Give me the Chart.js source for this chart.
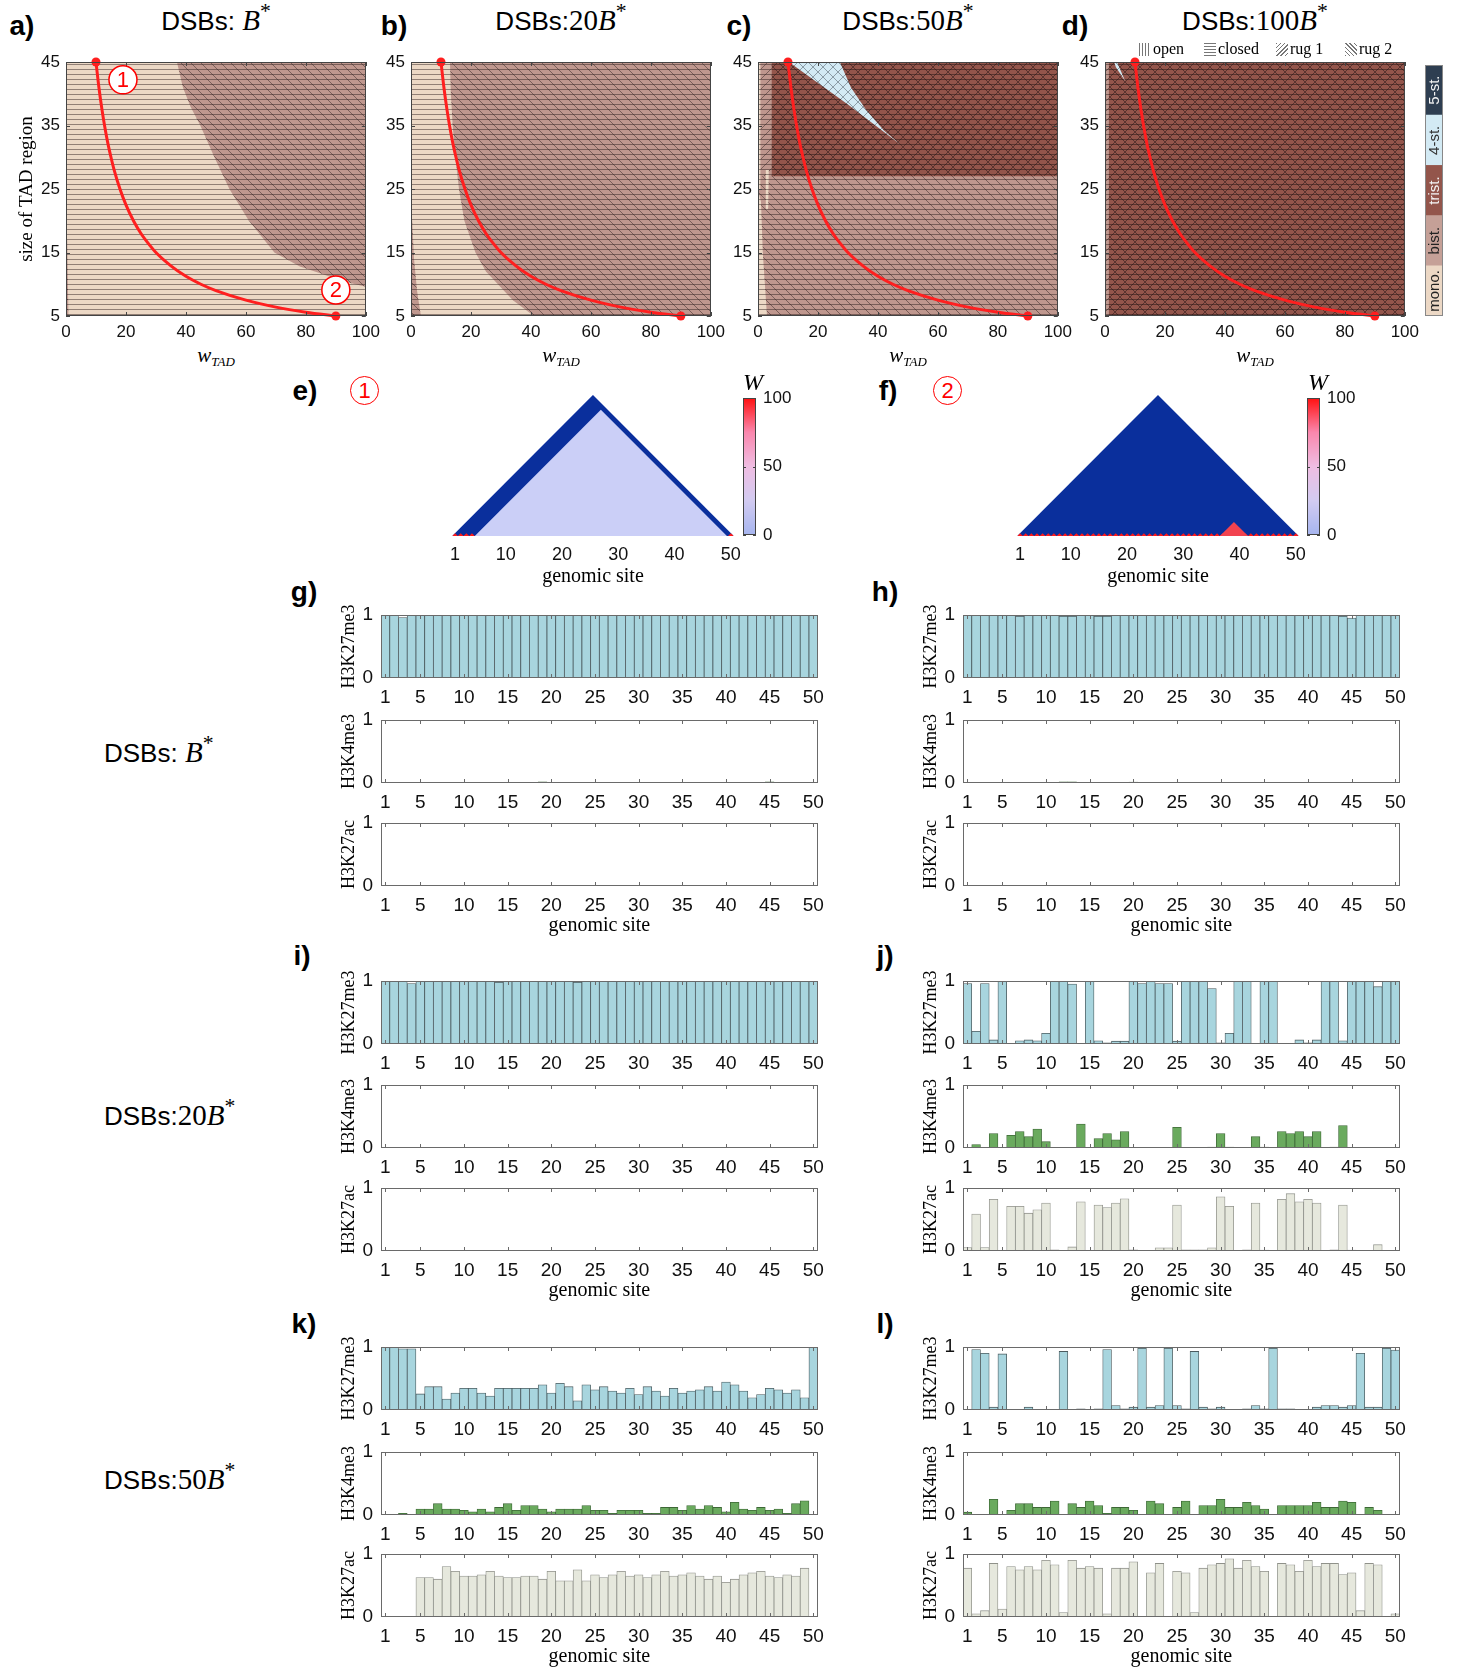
<!DOCTYPE html>
<html>
<head>
<meta charset="utf-8">
<title>TAD phase diagrams and histone marks</title>
<script src="https://cdn.jsdelivr.net/npm/chart.js@4.4.1/dist/chart.umd.min.js"></script>
<style>
  body { margin: 0; width: 1469px; height: 1671px; position: relative; background: #fff; overflow: hidden;
         font-family: "Liberation Sans", Arial, sans-serif; color: #000; }
  canvas { position: absolute; }
  .t { position: absolute; transform: translate(-50%, -50%); white-space: nowrap; line-height: 1; z-index: 2; }
  .lab { font-weight: bold; font-size: 28px; }
  .ttl { font-size: 26px; }
  .row { transform: translate(0, -50%); }
  .m { font-family: "Liberation Serif", serif; }
  .mt { font-size: 29px; }
  .m sup { font-size: 75%; vertical-align: 0.55em; line-height: 0; }
  .wt { font-size: 21px; }
  .wt sub { font-size: 13px; vertical-align: -0.35em; line-height: 0; }
  .circ { position: absolute; width: 27px; height: 27px; margin: -15px 0 0 -15px; border: 1.5px solid #f00; border-radius: 50%;
          color: #f00; font-size: 22px; text-align: center; line-height: 28px; z-index: 2; }
  .lg { position: absolute; top: 40px; font-family: "Liberation Serif", serif; font-size: 16px; display: flex; align-items: center; gap: 2px; z-index: 2; }
  .sw { display: inline-block; width: 12px; height: 13px; }
  .sw.open { background: repeating-linear-gradient(90deg, #777 0 1px, #fff 1px 3px); }
  .sw.closed { background: repeating-linear-gradient(0deg, #777 0 1px, #fff 1px 3px); }
  .sw.rug1 { background: repeating-linear-gradient(135deg, #777 0 1px, #fff 1px 3px); }
  .sw.rug2 { background: repeating-linear-gradient(45deg, #777 0 1px, #fff 1px 3px); }
</style>
</head>
<body>

<div class="t lab" style="left:22px;top:26px">a)</div>
<div class="t lab" style="left:394px;top:26px">b)</div>
<div class="t lab" style="left:739px;top:26px">c)</div>
<div class="t lab" style="left:1075px;top:26px">d)</div>
<div class="t ttl" style="left:216px;top:20px">DSBs: <span class="m mt"><i>B</i><sup>*</sup></span></div>
<div class="t ttl" style="left:561px;top:20px">DSBs:<span class="m mt">20<i>B</i><sup>*</sup></span></div>
<div class="t ttl" style="left:908px;top:20px">DSBs:<span class="m mt">50<i>B</i><sup>*</sup></span></div>
<div class="t ttl" style="left:1255px;top:20px">DSBs:<span class="m mt">100<i>B</i><sup>*</sup></span></div>

<div class="lg" style="left:1139px"><span class="sw open"></span>open</div>
<div class="lg" style="left:1204px"><span class="sw closed"></span>closed</div>
<div class="lg" style="left:1276px"><span class="sw rug1"></span>rug 1</div>
<div class="lg" style="left:1345px"><span class="sw rug2"></span>rug 2</div>

<div class="t m wt" style="left:216px;top:355px"><i>w</i><sub><i>TAD</i></sub></div>
<div class="t m wt" style="left:561px;top:355px"><i>w</i><sub><i>TAD</i></sub></div>
<div class="t m wt" style="left:908px;top:355px"><i>w</i><sub><i>TAD</i></sub></div>
<div class="t m wt" style="left:1255px;top:355px"><i>w</i><sub><i>TAD</i></sub></div>

<div class="t lab" style="left:305px;top:391px">e)</div>
<div class="circ" style="left:365px;top:391px">1</div>
<div class="t lab" style="left:888px;top:391px">f)</div>
<div class="circ" style="left:948px;top:391px">2</div>
<div class="t m" style="left:753px;top:382px;font-size:24px"><i>W</i></div>
<div class="t m" style="left:1318px;top:382px;font-size:24px"><i>W</i></div>

<div class="t lab" style="left:304px;top:592px">g)</div>
<div class="t lab" style="left:885px;top:592px">h)</div>
<div class="t lab" style="left:302px;top:956px">i)</div>
<div class="t lab" style="left:885px;top:956px">j)</div>
<div class="t lab" style="left:304px;top:1324px">k)</div>
<div class="t lab" style="left:885px;top:1324px">l)</div>

<div class="t ttl row" style="left:104px;top:752px">DSBs: <span class="m mt"><i>B</i><sup>*</sup></span></div>
<div class="t ttl row" style="left:104px;top:1115px">DSBs:<span class="m mt">20<i>B</i><sup>*</sup></span></div>
<div class="t ttl row" style="left:104px;top:1479px">DSBs:<span class="m mt">50<i>B</i><sup>*</sup></span></div>

<script>
// ---- axes / categories ----
const SITES = [1,2,3,4,5,6,7,8,9,10,11,12,13,14,15,16,17,18,19,20,21,22,23,24,25,
               26,27,28,29,30,31,32,33,34,35,36,37,38,39,40,41,42,43,44,45,46,47,48,49,50];
const BAR_TICKS = [1,5,10,15,20,25,30,35,40,45,50];
const TRI_TICKS = [1,10,20,30,40,50];
const W_TICKS = [0,50,100];
const WTAD_TICKS = [0,20,40,60,80,100];
const SIZE_TICKS = [5,15,25,35,45];
const MARKS = ['H3K27me3','H3K4me3','H3K27ac'];
const STATES = ['mono.','bist.','trist.','4-st.','5-st.'];

// ---- phase diagrams (w_TAD, size of TAD region) ----
const CURVE_W    = [10, 11, 12, 13, 14, 15, 16, 18, 20, 22.5, 25, 27.5, 30, 35, 40, 45, 50, 60, 70, 80, 90];
const CURVE_SIZE = [45, 40.9, 37.5, 34.6, 32.1, 30, 28.1, 25, 22.5, 20, 18, 16.4, 15, 12.9, 11.25, 10, 9, 7.5, 6.4, 5.6, 5];
const FULL = [[0,5],[100,5],[100,45],[0,45]];
const A_BIST = [[37,45],[39,41],[41.5,38],[44.8,35],[49.5,30],[54.5,25],[61,20],[69.5,15],[78,12.8],[85,11.7],[92,10.5],[100,9.6],[100,45]];
const A_SLIVER = [[0,5],[0.8,5],[0.4,17],[0,17]];
const B_BIST = [[13,45],[13.3,40],[13.9,35],[14.8,30],[16,25],[17.8,20],[21.5,15],[25,12],[29,10],[34,7.5],[41,5],[100,5],[100,45]];
const B_SLIVER = [[0,5],[3.3,5],[2,9],[1,14],[0.4,20],[0,22]];
const C_TRIST = [[4.5,27],[100,27],[100,45],[4.5,45]];
const C_STRIP = [[0.8,27],[4.5,27],[4.5,45],[0.8,45]];
const C_MONO_WEDGE = [[0,5],[3,5],[1.6,15],[1,23],[0,25]];
const C_MONO_EDGE = [[0,25],[0.8,25],[0.8,45],[0,45]];
const C_MONO_BIT = [[2.6,28],[3.6,28],[3.4,22],[3,21.6],[2.6,22]];
const C_FOUR = [[10.3,45],[27.3,45],[31,41],[36,37.5],[42,34.2],[47.5,32],[30,38.3]];
const D_STRIP = [[0,5],[1.3,5],[1.3,45],[0,45]];
const D_FOUR = [[3.1,45],[4,45],[6.7,42],[3.6,44.2]];
const A_MARKS = [{x:19, y:42.2, t:'1'}, {x:90, y:9.1, t:'2'}];

// ---- W maps (site position, pair distance) ----
const TRI_FULL = [[0.5,0],[25.5,25],[50.5,0]];
const E_BAND = [[0.5,0],[25.5,25],[50.5,0],[49.3,0],[26.9,22.4],[4.5,0]];
const E_DIAG_HOT = [1,2,3,4,50];
const F_DIAG_HOT = SITES;
const F_HOT_BLOCK = [37,38,39,40,41];
const W_STOPS = [[0,'#a6b5ef'],[0.25,'#d2cbf1'],[0.5,'#efbde2'],[0.75,'#fa87ad'],[1,'#ff1010']];

// ---- histone marks per site ----
const G_K27ME3 = [0.99,1,0.96,1,1, 1,1,1,1,1, 1,1,1,1,1, 1,1,1,1,1, 1,0.99,0.99,1,1, 1,1,1,1,1, 1,1,0.99,1,0.99, 1,1,1,1,1, 1,1,1,1,1, 1,1,1,1,1];
const G_K4ME3  = [0,0,0,0,0, 0,0,0,0,0, 0,0,0,0,0, 0,0,0,0.02,0, 0,0,0,0,0, 0,0,0,0,0, 0,0,0,0,0, 0,0,0,0,0, 0,0,0,0,0.02, 0,0,0,0,0];
const G_K27AC  = [0,0,0,0,0, 0,0,0,0,0, 0,0,0,0,0, 0,0,0,0,0, 0,0,0.008,0,0, 0,0,0,0,0, 0,0,0,0,0, 0,0,0,0,0, 0,0,0,0,0, 0,0,0,0,0];
const H_K27ME3 = [1,1,1,1,1, 1,0.98,1,1,1, 1,0.98,0.98,1,1, 0.98,0.98,1,1,1, 1,1,1,1,1, 1,1,1,1,1, 1,1,1,1,1, 1,1,1,1,1, 1,1,1,0.98,0.95, 1,1,1,1,1];
const H_K4ME3  = [0,0,0,0,0, 0,0,0,0,0, 0,0.02,0.02,0,0, 0,0,0,0,0.015, 0,0,0,0,0, 0,0,0,0,0, 0,0,0,0,0, 0,0,0,0,0, 0,0,0,0,0, 0,0,0,0,0];
const H_K27AC  = [0,0,0,0,0, 0,0,0,0,0, 0,0,0.008,0,0, 0,0,0,0,0, 0,0,0,0,0, 0,0,0,0,0, 0,0,0,0,0, 0,0,0,0,0, 0,0,0,0,0, 0,0,0,0,0];
const I_K27ME3 = [1,1,1,0.96,1, 1,1,1,1,1, 1,1,1,0.98,1, 1,1,1,1,1, 1,1,0.98,1,1, 1,1,1,1,1, 1,1,1,1,1, 1,1,1,1,1, 1,1,1,1,1, 1,1,1,1,1];
const I_K4ME3  = [0,0,0,0,0, 0,0,0,0,0, 0,0,0,0,0, 0,0,0,0,0, 0,0,0,0,0, 0,0,0,0,0, 0,0,0,0,0, 0,0,0,0,0, 0,0,0,0,0, 0,0,0,0,0];
const I_K27AC  = [0.01,0,0,0.01,0, 0,0,0,0,0, 0,0,0,0,0, 0,0,0,0,0, 0,0,0,0,0, 0,0,0,0,0, 0,0,0,0,0, 0,0,0,0,0, 0,0,0,0,0, 0,0,0,0,0];
const J_K27ME3 = [0.96,0.2,0.96,0.065,1, 0,0.05,0.065,0.05,0.17, 0.99,0.99,0.95,0,1, 0.05,0.02,0.045,0.045,1, 0.96,0.99,0.96,0.96,0.045,
                  0.99,0.99,0.99,0.88,0.02, 0.17,1,0.99,0,1, 1,0,0,0.065,0.02, 0.065,1,0.99,0.05,0.99, 0.99,0.99,0.91,1,1];
const J_K4ME3  = [0,0.055,0,0.23,0, 0.2,0.26,0.18,0.3,0.1, 0,0,0,0.38,0, 0.15,0.23,0.13,0.26,0, 0,0,0,0,0.33,
                  0,0,0,0.015,0.23, 0.015,0,0,0.18,0.015, 0,0.26,0.23,0.26,0.18, 0.26,0,0.015,0.355,0, 0,0,0,0,0];
const J_K27AC  = [0.055,0.585,0.055,0.82,0, 0.71,0.71,0.6,0.655,0.76, 0.02,0,0.065,0.78,0, 0.73,0.69,0.76,0.83,0.02, 0,0,0.05,0.05,0.73,
                  0.02,0.02,0.02,0.05,0.86, 0.71,0,0.02,0.76,0.015, 0,0.82,0.91,0.78,0.82, 0.76,0,0.02,0.73,0.015, 0,0.01,0.1,0,0];
const K_K27ME3 = [1,1,0.97,0.97,0.255, 0.37,0.37,0.175,0.27,0.345, 0.345,0.27,0.22,0.345,0.345, 0.345,0.345,0.345,0.4,0.27, 0.425,0.37,0.145,0.4,0.32,
                  0.37,0.3,0.27,0.345,0.245, 0.37,0.3,0.22,0.345,0.27, 0.3,0.32,0.37,0.3,0.445, 0.4,0.3,0.195,0.245,0.345, 0.32,0.27,0.32,0.195,1];
const K_K4ME3  = [0,0,0.027,0,0.095, 0.095,0.18,0.095,0.095,0.075, 0.05,0.095,0.05,0.12,0.18, 0.075,0.15,0.15,0.095,0.05, 0.095,0.095,0.095,0.15,0.075,
                  0.075,0.027,0.075,0.075,0.075, 0.027,0.027,0.12,0.12,0.075, 0.15,0.095,0.15,0.12,0.05, 0.2,0.095,0.075,0.12,0.075, 0.095,0.027,0.18,0.225,0];
const K_K27AC  = [0,0,0,0,0.625, 0.625,0.6,0.8,0.725,0.65, 0.65,0.67,0.725,0.65,0.625, 0.625,0.65,0.65,0.6,0.725, 0.575,0.575,0.75,0.575,0.67,
                  0.625,0.67,0.725,0.65,0.67, 0.625,0.67,0.725,0.65,0.67, 0.7,0.65,0.6,0.65,0.55, 0.6,0.67,0.7,0.725,0.65, 0.625,0.67,0.65,0.775,0];
const L_K27ME3 = [0,0.96,0.9,0.045,0.89, 0,0,0.045,0,0, 0,0.93,0,0.02,0, 0.02,0.96,0.07,0.02,0.045, 0.98,0.045,0.07,0.98,0.07,
                  0.02,0.93,0.045,0.02,0.045, 0,0,0.02,0.07,0.02, 0.98,0.02,0.02,0,0, 0.045,0.07,0.07,0.045,0.07, 0.9,0.045,0.045,0.98,0.95];
const L_K4ME3  = [0.045,0,0,0.25,0, 0.075,0.18,0.18,0.12,0.12, 0.22,0,0.18,0.12,0.22, 0.15,0.027,0.12,0.12,0.075, 0,0.22,0.18,0,0.12,
                  0.22,0,0.15,0.15,0.25, 0.12,0.12,0.2,0.15,0.095, 0,0.15,0.15,0.15,0.15, 0.2,0.12,0.12,0.22,0.2, 0,0.12,0.075,0,0];
const L_K27AC  = [0.775,0.05,0.1,0.85,0.125, 0.8,0.75,0.8,0.75,0.9, 0.83,0.07,0.9,0.775,0.8, 0.775,0.05,0.775,0.775,0.875, 0.01,0.7,0.85,0.01,0.725,
                  0.7,0.07,0.775,0.83,0.85, 0.925,0.775,0.9,0.8,0.725, 0.01,0.85,0.83,0.725,0.9, 0.8,0.85,0.85,0.675,0.7, 0.1,0.85,0.83,0.01,0.05];

// ---- colours ----
const MONO_C = '#ecd8c5', BIST_C = '#bf978e', TRIST_C = '#93554b', FOUR_C = '#d3eaf4', FIVE_C = '#2e3e51';
const STATE_COLORS = [MONO_C, '#c5a097', TRIST_C, FOUR_C, FIVE_C];
const STATE_TEXT = ['#222', '#222', '#f4f4f4', '#333', '#f4f4f4'];
const MARK_FILL = ['#a8d5de', '#6aaa5e', '#e6e8dd'];
const MARK_EDGE = ['#4b5b5f', '#3d6736', '#8f918a'];
const LAV = '#cbcff7', NAVY = '#0a2f9c', HOT = '#ff1a1a', HOT_BLOCK = '#f2434f';

Chart.defaults.font.family = '"Liberation Sans", Arial, sans-serif';
Chart.defaults.color = '#111';

function addCanvas(left, top, w, h) {
  const c = document.createElement('canvas');
  c.width = w; c.height = h;
  c.style.left = left + 'px'; c.style.top = top + 'px';
  c.style.width = w + 'px'; c.style.height = h + 'px';
  document.body.appendChild(c);
  return c;
}

function hatch(base, kinds, line) {
  const t = document.createElement('canvas');
  t.width = 10; t.height = 10;
  const g = t.getContext('2d');
  g.fillStyle = base; g.fillRect(0, 0, 10, 10);
  g.strokeStyle = line || 'rgba(45,30,30,0.6)';
  g.lineWidth = 0.8;
  g.beginPath();
  kinds.forEach(k => {
    if (k === 'closed') { g.moveTo(0, 2.5); g.lineTo(10, 2.5); g.moveTo(0, 7.5); g.lineTo(10, 7.5); }
    if (k === 'open') { g.moveTo(2.5, 0); g.lineTo(2.5, 10); g.moveTo(7.5, 0); g.lineTo(7.5, 10); }
    if (k === 'rug2') [-10, 0, 10].forEach(o => { g.moveTo(o, 0); g.lineTo(o + 10, 10); });
    if (k === 'rug1') [-10, 0, 10].forEach(o => { g.moveTo(o + 10, 0); g.lineTo(o, 10); });
  });
  g.stroke();
  return g.createPattern(t, 'repeat');
}

const P_MONO = hatch(MONO_C, ['closed']);
const P_BIST = hatch(BIST_C, ['closed', 'rug2']);
const P_BIST1 = hatch(BIST_C, ['closed', 'rug1']);
const P_TRIST = hatch(TRIST_C, ['closed', 'rug1', 'rug2'], 'rgba(35,20,20,0.65)');
const P_FOUR = hatch(FOUR_C, ['rug1', 'rug2'], 'rgba(60,70,80,0.6)');

// frame + inward ticks, drawn on top of the marks
const boxPlugin = {
  id: 'box',
  afterDatasetsDraw(chart, args, opts) {
    if (!opts.show) return;
    const a = chart.chartArea, ctx = chart.ctx, len = opts.len || 4;
    ctx.save();
    ctx.strokeStyle = opts.color || '#555';
    ctx.lineWidth = 1;
    ctx.beginPath();
    if (opts.x) chart.scales.x.ticks.forEach(t => {
      const p = Math.round(chart.scales.x.getPixelForValue(t.value)) + 0.5;
      ctx.moveTo(p, a.bottom); ctx.lineTo(p, a.bottom - len);
      ctx.moveTo(p, a.top); ctx.lineTo(p, a.top + len);
    });
    if (opts.y) chart.scales.y.ticks.forEach(t => {
      const p = Math.round(chart.scales.y.getPixelForValue(t.value)) + 0.5;
      ctx.moveTo(a.left, p); ctx.lineTo(a.left + len, p);
      ctx.moveTo(a.right, p); ctx.lineTo(a.right - len, p);
    });
    ctx.stroke();
    ctx.strokeRect(Math.round(a.left) + 0.5, Math.round(a.top) + 0.5, Math.round(a.width) - 1, Math.round(a.height) - 1);
    ctx.restore();
  }
};
Chart.register(boxPlugin);

function circleMarks(items) {
  return {
    id: 'circles',
    afterDatasetsDraw(chart) {
      const {ctx, scales: {x, y}} = chart;
      items.forEach(it => {
        const px = x.getPixelForValue(it.x), py = y.getPixelForValue(it.y);
        ctx.save();
        ctx.beginPath(); ctx.arc(px, py, 14, 0, Math.PI * 2);
        ctx.fillStyle = '#fff'; ctx.fill();
        ctx.lineWidth = 1.5; ctx.strokeStyle = '#ff0000'; ctx.stroke();
        ctx.fillStyle = '#ff0000'; ctx.font = '22px "Liberation Sans"';
        ctx.textAlign = 'center'; ctx.textBaseline = 'middle';
        ctx.fillText(it.t, px, py + 1);
        ctx.restore();
      });
    }
  };
}

const fixedTicks = list => s => { s.ticks = list.map(v => ({value: v})); };
const baseOpts = {responsive: false, animation: false, devicePixelRatio: 1, events: []};
const noGrid = {display: false, drawTicks: false};

// top padding has to cover the y-axis label overflow (half a line + tick padding)
function phaseChart(plotLeft, regions, yTitle, marks) {
  const yW = yTitle ? 66 : 40;
  const c = addCanvas(plotLeft - yW, 62 - 20, yW + 300 + 20, 20 + 254 + 26);
  const datasets = regions.map((r, i) => ({
    data: r[0].map(p => ({x: p[0], y: p[1]})),
    fill: 'shape', backgroundColor: r[1], borderWidth: 0, pointRadius: 0, order: 50 - i
  }));
  datasets.push({
    data: CURVE_W.map((w, i) => ({x: w, y: CURVE_SIZE[i]})),
    fill: false, borderColor: '#ff1f1f', borderWidth: 3, clip: false, order: 0,
    cubicInterpolationMode: 'monotone',
    pointRadius: ctx => (ctx.dataIndex === 0 || ctx.dataIndex === CURVE_W.length - 1) ? 4.5 : 0,
    pointBackgroundColor: '#ff1f1f', pointBorderWidth: 0
  });
  new Chart(c, {
    type: 'line',
    data: {datasets},
    options: {
      ...baseOpts,
      layout: {padding: {top: 20, right: 20, bottom: 0, left: 0}},
      plugins: {legend: {display: false}, tooltip: {enabled: false},
                box: {show: true, color: '#444', x: true, y: true, len: 4}},
      scales: {
        x: {type: 'linear', min: 0, max: 100, offset: false, afterBuildTicks: fixedTicks(WTAD_TICKS),
            ticks: {font: {size: 17}, padding: 6, maxRotation: 0, autoSkip: false},
            grid: noGrid, border: {display: false}, afterFit: s => { s.height = 26; }},
        y: {type: 'linear', min: 5, max: 45, afterBuildTicks: fixedTicks(SIZE_TICKS),
            ticks: {font: {size: 17}, padding: 6, autoSkip: false},
            grid: noGrid, border: {display: false}, afterFit: s => { s.width = yW; },
            title: yTitle ? {display: true, text: yTitle, color: '#000',
                             font: {family: '"Liberation Serif", serif', size: 19}, padding: {top: 16, bottom: 0}}
                          : {display: false}}
      }
    },
    plugins: marks ? [circleMarks(marks)] : []
  });
}

phaseChart(66, [[FULL, P_MONO], [A_BIST, P_BIST], [A_SLIVER, P_BIST]], 'size of TAD region', A_MARKS);
phaseChart(411, [[FULL, P_MONO], [B_BIST, P_BIST], [B_SLIVER, P_BIST]]);
phaseChart(758, [[FULL, P_BIST], [C_TRIST, P_TRIST], [C_STRIP, P_BIST1], [C_MONO_WEDGE, P_MONO],
                 [C_MONO_EDGE, P_MONO], [C_MONO_BIT, P_MONO], [C_FOUR, P_FOUR]]);
phaseChart(1105, [[FULL, P_TRIST], [D_STRIP, P_BIST1], [D_FOUR, P_FOUR]]);

// state colour bar next to d)
new Chart(addCanvas(1425, 65, 18, 251), {
  type: 'bar',
  data: {labels: ['state'], datasets: STATES.map((s, i) => ({
    label: s, data: [1], backgroundColor: STATE_COLORS[i], borderWidth: 0, barPercentage: 1, categoryPercentage: 1 }))},
  options: {
    ...baseOpts,
    layout: {padding: 0},
    plugins: {legend: {display: false}, tooltip: {enabled: false}, box: {show: true, color: '#888'}},
    scales: {x: {display: false, stacked: true}, y: {display: false, stacked: true, min: 0, max: 5}}
  },
  plugins: [{
    id: 'stateLabels',
    afterDatasetsDraw(chart) {
      const ctx = chart.ctx;
      chart.data.datasets.forEach((ds, i) => {
        const bar = chart.getDatasetMeta(i).data[0];
        ctx.save();
        ctx.translate(bar.x, (bar.y + bar.base) / 2);
        ctx.rotate(-Math.PI / 2);
        ctx.fillStyle = STATE_TEXT[i];
        ctx.font = '15px "Liberation Sans"';
        ctx.textAlign = 'center'; ctx.textBaseline = 'middle';
        ctx.fillText(ds.label, 0, 1);
        ctx.restore();
      });
    }
  }]
});

// W maps
function diagCells(sites) {
  const pts = [];
  sites.forEach(s => { pts.push([s - 0.5, 0], [s, 0.5], [s + 0.5, 0]); });
  return pts;
}
function blockCells(sites) {
  const a = sites[0], b = sites[sites.length - 1];
  return [[a - 0.5, 0], [(a + b) / 2, (b - a + 1) / 2], [b + 0.5, 0]];
}

function triangleChart(plotLeft, regions) {
  const c = addCanvas(plotLeft - 10, 387, 10 + 283 + 14, 8 + 141 + 53);
  new Chart(c, {
    type: 'line',
    data: {datasets: regions.map((r, i) => ({
      data: r[0].map(p => ({x: p[0], y: p[1]})),
      fill: 'shape', backgroundColor: r[1], borderWidth: 0, pointRadius: 0, order: 50 - i }))},
    options: {
      ...baseOpts,
      layout: {padding: {top: 8, left: 10, right: 14, bottom: 0}},
      plugins: {legend: {display: false}, tooltip: {enabled: false}},
      scales: {
        x: {type: 'linear', min: 0.5, max: 50.5, offset: false, afterBuildTicks: fixedTicks(TRI_TICKS),
            ticks: {font: {size: 18}, padding: 8, maxRotation: 0, autoSkip: false},
            grid: noGrid, border: {display: false}, afterFit: s => { s.height = 53; },
            title: {display: true, text: 'genomic site', color: '#000',
                    font: {family: '"Liberation Serif", serif', size: 20}, padding: {top: 0, bottom: 0}}},
        y: {display: false, min: 0, max: 25}
      }
    }
  });
}

function wColorbar(plotLeft) {
  new Chart(addCanvas(plotLeft, 398 - 20, 13 + 44, 20 + 137 + 20), {
    type: 'bar',
    data: {labels: ['W'], datasets: [{
      data: [100], borderWidth: 0, barPercentage: 1, categoryPercentage: 1,
      backgroundColor: ctx => {
        const a = ctx.chart.chartArea;
        if (!a) return W_STOPS[0][1];
        const g = ctx.chart.ctx.createLinearGradient(0, a.bottom, 0, a.top);
        W_STOPS.forEach(s => g.addColorStop(s[0], s[1]));
        return g;
      }
    }]},
    options: {
      ...baseOpts,
      layout: {padding: {top: 20, bottom: 20, left: 0, right: 0}},
      plugins: {legend: {display: false}, tooltip: {enabled: false}, box: {show: true, color: '#444', y: true, len: 3}},
      scales: {
        x: {display: false},
        y: {position: 'right', min: 0, max: 100, afterBuildTicks: fixedTicks(W_TICKS),
            ticks: {font: {size: 17}, padding: 7}, grid: noGrid, border: {display: false},
            afterFit: s => { s.width = 44; }}
      }
    }
  });
}

triangleChart(452, [[TRI_FULL, LAV], [E_BAND, NAVY], [diagCells(E_DIAG_HOT), HOT]]);
triangleChart(1017, [[TRI_FULL, NAVY], [diagCells(F_DIAG_HOT), HOT], [blockCells(F_HOT_BLOCK), HOT_BLOCK]]);
wColorbar(743);
wColorbar(1307);

// histone mark bar panels
function markChart(plotLeft, plotTop, values, k, last) {
  const xH = last ? 52 : 30;
  const c = addCanvas(plotLeft - 50, plotTop - 22, 50 + 439 + 12, 22 + 63 + xH);
  new Chart(c, {
    type: 'bar',
    data: {datasets: [{
      data: values.map((v, i) => ({x: SITES[i], y: v})),
      backgroundColor: MARK_FILL[k], borderColor: MARK_EDGE[k], borderWidth: 0.8,
      barPercentage: 1, categoryPercentage: 1
    }]},
    options: {
      ...baseOpts,
      layout: {padding: {top: 22, right: 12, left: 0, bottom: 0}},
      plugins: {legend: {display: false}, tooltip: {enabled: false},
                box: {show: true, color: '#6a6a6a', x: true, len: 4}},
      scales: {
        x: {type: 'linear', min: 0.5, max: 50.5, offset: false, afterBuildTicks: fixedTicks(BAR_TICKS),
            ticks: {font: {size: 19}, padding: 8, maxRotation: 0, autoSkip: false},
            grid: noGrid, border: {display: false}, afterFit: s => { s.height = xH; },
            title: last ? {display: true, text: 'genomic site', color: '#000',
                           font: {family: '"Liberation Serif", serif', size: 20}, padding: {top: 0, bottom: 0}}
                        : {display: false}},
        y: {type: 'linear', min: 0, max: 1, afterBuildTicks: fixedTicks([0, 1]),
            ticks: {font: {size: 19}, padding: 8, autoSkip: false},
            grid: noGrid, border: {display: false}, afterFit: s => { s.width = 50; },
            title: {display: true, text: MARKS[k], color: '#000',
                    font: {family: '"Liberation Serif", serif', size: 18}, padding: {top: 7, bottom: 0}}}
      }
    }
  });
}

const PANELS = [
  [381, [615, 720, 823], [G_K27ME3, G_K4ME3, G_K27AC]],
  [963, [615, 720, 823], [H_K27ME3, H_K4ME3, H_K27AC]],
  [381, [981, 1085, 1188], [I_K27ME3, I_K4ME3, I_K27AC]],
  [963, [981, 1085, 1188], [J_K27ME3, J_K4ME3, J_K27AC]],
  [381, [1347, 1452, 1554], [K_K27ME3, K_K4ME3, K_K27AC]],
  [963, [1347, 1452, 1554], [L_K27ME3, L_K4ME3, L_K27AC]]
];
PANELS.forEach(([left, tops, series]) => {
  series.forEach((vals, k) => markChart(left, tops[k], vals, k, k === 2));
});
</script>
</body>
</html>
